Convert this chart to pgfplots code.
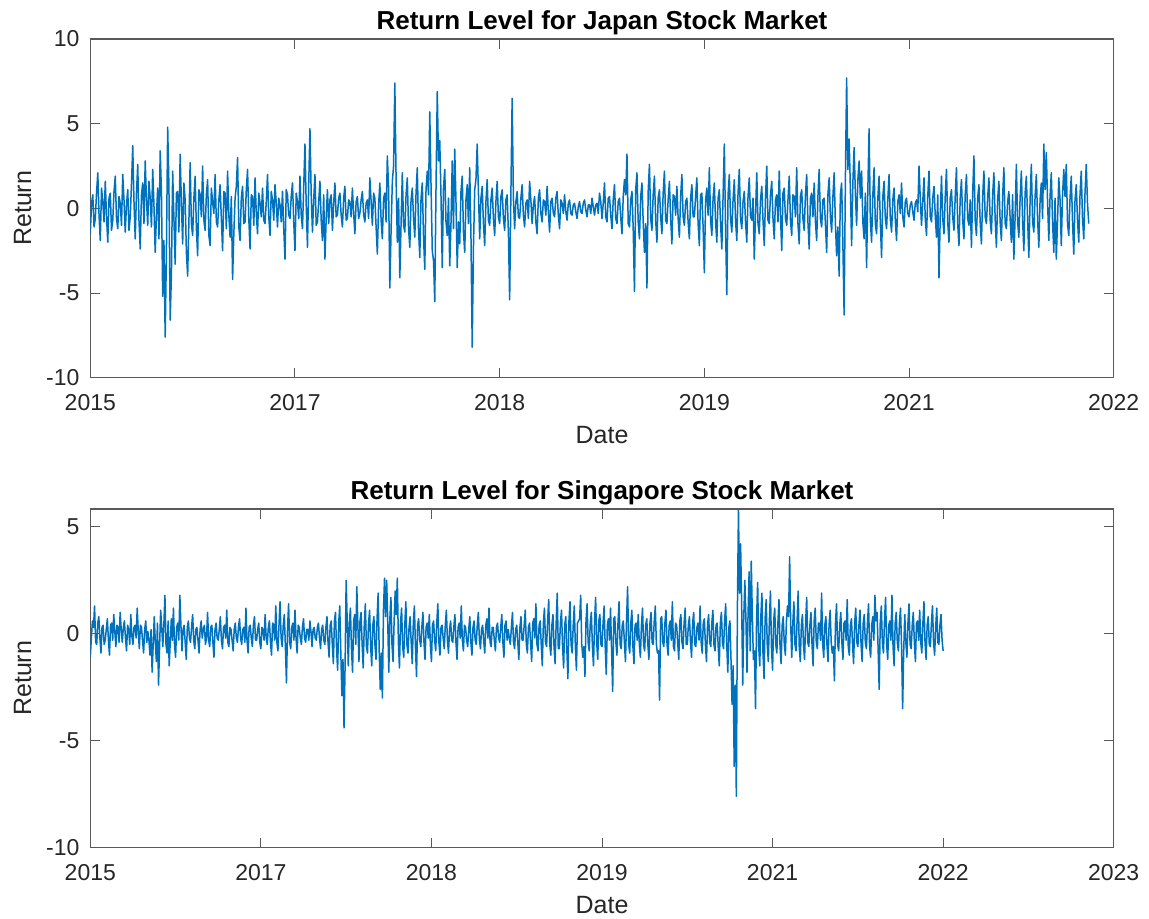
\documentclass[border=0pt]{standalone}
\usepackage{pgfplots}
\pgfplotsset{compat=1.18}
\usepackage{fontspec}
\setmainfont{Liberation Sans}
\definecolor{mblue}{rgb}{0,0.447,0.741}
\definecolor{mgray}{rgb}{0.15,0.15,0.15}
\definecolor{boxgray}{rgb}{0.35,0.35,0.35}
\pgfplotsset{every axis title shift=0pt,
 mstyle/.style={
  scale only axis, width=511.7pt, height=169.35pt,
  axis line style={draw=boxgray, line width=0.6pt},
  tick align=inside, xtick pos=both, ytick pos=both,
  major tick length=5pt,
  every tick/.style={boxgray, line width=0.5pt},
  tick label style={font=\fontsize{11.5}{11.5}\selectfont, text=mgray},
  xticklabel style={yshift=-4.8pt},
  yticklabel style={xshift=-1.9pt},
  label style={font=\fontsize{12.5}{12.5}\selectfont, text=mgray},
  xlabel={Date}, ylabel={Return},
  xlabel style={at={(axis description cs:0.5,-0.1937)}, anchor=base},
  ylabel style={at={(axis description cs:-0.0662,0.5)}, anchor=center},
  title style={at={(axis description cs:0.5,1)}, anchor=base, yshift=4.85pt, font=\bfseries\fontsize{13}{13}\selectfont},
  clip=true,
}}
\begin{document}
\begin{tikzpicture}
\path[use as bounding box] (0,0) rectangle (574.5pt,-459pt);
\begin{axis}[mstyle, at={(45.15pt,-188.85pt)}, anchor=south west,
  xmin=0, xmax=820, ymin=-10, ymax=10,
  xtick={0,164,328,492,656,820}, xticklabels={2015,2017,2018,2019,2021,2022},
  ytick={-10,-5,0,5,10}, yticklabels={-10,-5,0,5,10},
  title={Return Level for Japan Stock Market}]
\addplot[mblue, line width=0.75pt, line join=round, no marks] coordinates {
(0,-1.5)(1,0.3)(2,0.8)(3,-1.1)(4,-0.6)(5,0.9)(6,2.1)(7,-0.4)(8,-1.9)(9,1.2)(10,0.4)(11,-0.8)(12,1.6)(13,-0.5)(14,-2.0)(15,0.6)(16,0.9)(17,-1.3)(18,-0.7)(19,1.0)
(20,1.9)(21,-0.6)(22,-1.2)(23,0.7)(24,0.3)(25,-1.0)(26,2.0)(27,0.5)(28,-1.4)(29,0.2)(30,1.1)(31,-1.3)(32,-0.5)(33,1.4)(34,3.7)(35,0.4)(36,-1.8)(37,0.9)(38,2.6)(39,-0.7)
(40,-2.4)(41,0.8)(42,1.5)(43,-0.9)(44,2.8)(45,0.5)(46,-1.0)(47,1.6)(48,0.6)(49,-1.1)(50,2.3)(51,0.2)(52,-2.6)(53,-0.4)(54,1.2)(55,-1.8)(56,3.4)(57,1.0)(58,-5.2)(59,-1.9)
(60,-7.6)(61,-2.5)(62,4.8)(63,1.3)(64,-6.6)(65,-3.9)(66,2.2)(67,-0.6)(68,-3.3)(69,0.9)(70,1.0)(71,-1.4)(72,3.2)(73,0.3)(74,-2.1)(75,1.5)(76,0.5)(77,-2.6)(78,-4.0)(79,-0.8)
(80,2.7)(81,-0.9)(82,-1.6)(83,0.6)(84,1.9)(85,-1.2)(86,-2.8)(87,1.1)(88,0.8)(89,-0.5)(90,2.5)(91,-0.7)(92,-1.3)(93,0.8)(94,1.7)(95,-1.6)(96,-2.2)(97,1.2)(98,0.4)(99,-0.3)
(100,2.0)(101,-0.8)(102,-1.1)(103,0.5)(104,1.4)(105,-0.6)(106,-2.5)(107,1.0)(108,0.9)(109,-1.2)(110,2.2)(111,-0.4)(112,-1.7)(113,0.7)(114,-4.2)(115,-1.5)(116,0.6)(117,1.3)(118,3.0)(119,-1.1)
(120,-1.9)(121,0.6)(122,1.3)(123,-0.9)(124,-0.8)(125,1.1)(126,2.3)(127,-0.6)(128,-2.4)(129,0.8)(130,0.7)(131,-1.0)(132,1.8)(133,-0.3)(134,-1.5)(135,0.9)(136,0.3)(137,-0.5)(138,1.2)(139,-0.7)
(140,-0.9)(141,0.4)(142,2.0)(143,-0.5)(144,-1.6)(145,1.0)(146,0.5)(147,-0.7)(148,1.4)(149,0.3)(150,-1.1)(151,0.6)(152,0.2)(153,-0.8)(154,1.0)(155,-1.2)(156,-3.0)(157,1.1)(158,0.8)(159,-0.4)
(160,-0.6)(161,0.7)(162,1.5)(163,-0.8)(164,-2.5)(165,0.9)(166,0.4)(167,-0.6)(168,1.9)(169,-0.4)(170,-1.2)(171,1.3)(172,3.8)(173,0.2)(174,-2.3)(175,1.4)(176,4.7)(177,0.8)(178,-1.4)(179,0.5)
(180,2.0)(181,-1.0)(182,-0.8)(183,0.4)(184,1.6)(185,-0.7)(186,-1.9)(187,0.8)(188,-3.0)(189,-0.6)(190,1.1)(191,-0.9)(192,0.5)(193,0.8)(194,-1.3)(195,0.3)(196,1.5)(197,-0.5)(198,-0.4)(199,0.6)
(200,0.9)(201,-0.4)(202,-1.1)(203,0.6)(204,1.3)(205,-0.7)(206,-0.6)(207,0.5)(208,0.4)(209,-0.5)(210,1.2)(211,-0.3)(212,-1.5)(213,0.4)(214,0.7)(215,-0.6)(216,-0.3)(217,0.5)(218,1.0)(219,-0.4)
(220,-0.8)(221,0.3)(222,0.5)(223,-0.6)(224,1.8)(225,0.4)(226,-1.0)(227,0.9)(228,0.6)(229,-1.1)(230,-2.7)(231,0.2)(232,1.5)(233,-0.7)(234,-1.8)(235,0.6)(236,0.9)(237,-0.8)(238,3.1)(239,1.2)
(240,-4.7)(241,-1.3)(242,1.6)(243,2.5)(244,7.4)(245,1.8)(246,-2.0)(247,0.6)(248,-4.1)(249,-0.9)(250,2.1)(251,-1.0)(252,-1.4)(253,0.8)(254,1.8)(255,-1.2)(256,-2.3)(257,0.5)(258,1.2)(259,-0.6)
(260,-1.7)(261,0.9)(262,2.4)(263,-1.3)(264,-2.9)(265,0.6)(266,1.5)(267,-1.7)(268,-3.6)(269,1.1)(270,2.2)(271,0.8)(272,5.7)(273,1.4)(274,-2.5)(275,-3.1)(276,-5.5)(277,1.2)(278,6.9)(279,2.8)
(280,4.0)(281,0.7)(282,-3.5)(283,1.2)(284,2.3)(285,-0.8)(286,-1.6)(287,0.6)(288,-3.4)(289,-0.9)(290,2.8)(291,-1.2)(292,3.5)(293,0.4)(294,-3.5)(295,-0.8)(296,-2.1)(297,1.0)(298,1.9)(299,-1.4)
(300,-2.6)(301,0.5)(302,1.4)(303,-0.9)(304,2.4)(305,-1.6)(306,-8.2)(307,-2.3)(308,1.1)(309,1.7)(310,3.8)(311,0.9)(312,-1.8)(313,0.6)(314,1.3)(315,-0.9)(316,-2.2)(317,0.4)(318,1.7)(319,-0.7)
(320,-1.0)(321,0.5)(322,1.2)(323,-0.6)(324,-1.6)(325,0.4)(326,1.6)(327,-0.5)(328,-0.9)(329,0.7)(330,1.1)(331,-0.6)(332,-1.3)(333,0.5)(334,0.8)(335,-1.4)(336,-5.4)(337,0.9)(338,6.5)(339,0.6)
(340,-1.2)(341,0.4)(342,1.0)(343,-0.5)(344,-0.6)(345,0.6)(346,1.4)(347,-0.4)(348,-1.1)(349,0.3)(350,0.5)(351,-0.6)(352,1.6)(353,0.5)(354,-0.9)(355,0.2)(356,0.7)(357,-0.8)(358,-1.5)(359,0.6)
(360,1.1)(361,-0.3)(362,-0.8)(363,0.5)(364,0.4)(365,-0.4)(366,1.3)(367,-0.2)(368,-1.4)(369,0.4)(370,0.6)(371,-0.3)(372,-0.5)(373,0.6)(374,1.0)(375,-0.4)(376,-1.2)(377,0.5)(378,0.3)(379,-0.3)
(380,0.8)(381,-0.2)(382,-0.7)(383,0.3)(384,0.5)(385,-0.3)(386,-0.4)(387,0.2)(388,0.3)(389,-0.2)(390,-0.6)(391,0.1)(392,0.4)(393,-0.2)(394,-0.3)(395,0.3)(396,0.5)(397,-0.1)(398,-0.5)(399,0.2)
(400,0.2)(401,-0.3)(402,0.6)(403,0.1)(404,-0.4)(405,0.2)(406,0.3)(407,-0.3)(408,0.9)(409,0.4)(410,-0.6)(411,0.3)(412,1.5)(413,-0.5)(414,-0.8)(415,0.6)(416,0.7)(417,-0.4)(418,-1.2)(419,0.5)
(420,1.4)(421,-0.6)(422,-0.9)(423,0.4)(424,0.6)(425,-0.5)(426,-1.5)(427,0.7)(428,1.7)(429,0.8)(430,3.2)(431,-0.9)(432,-1.1)(433,0.5)(434,1.0)(435,-1.2)(436,-4.9)(437,1.1)(438,2.1)(439,-0.8)
(440,-1.8)(441,0.7)(442,1.5)(443,-0.8)(444,-2.6)(445,-0.9)(446,-4.7)(447,1.0)(448,2.6)(449,-0.6)(450,-1.3)(451,0.8)(452,1.9)(453,-0.7)(454,-2.0)(455,0.6)(456,1.1)(457,-0.5)(458,-1.5)(459,0.9)
(460,2.2)(461,-0.7)(462,-0.9)(463,0.5)(464,1.6)(465,-0.6)(466,-2.1)(467,0.8)(468,0.7)(469,-0.4)(470,1.3)(471,-0.6)(472,-1.7)(473,0.7)(474,2.0)(475,-0.5)(476,-1.0)(477,0.4)(478,0.6)(479,-0.8)
(480,-1.8)(481,0.6)(482,1.4)(483,-0.5)(484,-0.5)(485,0.7)(486,1.8)(487,-0.9)(488,-2.2)(489,0.8)(490,0.9)(491,-1.1)(492,-3.8)(493,0.5)(494,1.2)(495,-0.4)(496,2.4)(497,-0.7)(498,-1.6)(499,0.6)
(500,1.5)(501,-0.8)(502,-2.0)(503,0.6)(504,1.1)(505,-0.9)(506,-2.4)(507,0.7)(508,3.8)(509,-1.2)(510,-5.1)(511,0.8)(512,2.0)(513,-0.6)(514,-1.4)(515,0.5)(516,1.7)(517,-0.7)(518,-1.9)(519,0.9)
(520,2.3)(521,-0.6)(522,-1.2)(523,0.4)(524,1.0)(525,-0.8)(526,-2.0)(527,0.7)(528,1.8)(529,-0.5)(530,-0.7)(531,0.6)(532,-3.0)(533,-0.3)(534,2.1)(535,-0.9)(536,-1.5)(537,0.5)(538,1.3)(539,-0.7)
(540,-2.2)(541,0.6)(542,2.5)(543,-0.7)(544,-0.9)(545,0.8)(546,1.6)(547,-0.6)(548,-1.8)(549,0.5)(550,0.8)(551,-0.8)(552,2.2)(553,-0.4)(554,-2.5)(555,0.9)(556,1.2)(557,-0.6)(558,-1.0)(559,0.5)
(560,1.9)(561,-0.7)(562,-1.6)(563,0.8)(564,0.7)(565,-0.5)(566,2.4)(567,-0.9)(568,-2.1)(569,0.7)(570,1.1)(571,-0.6)(572,-1.3)(573,0.8)(574,2.0)(575,-0.8)(576,-2.4)(577,0.6)(578,0.9)(579,-0.5)
(580,1.5)(581,-0.8)(582,-1.9)(583,0.7)(584,2.3)(585,-0.6)(586,-1.1)(587,0.5)(588,0.6)(589,-0.9)(590,-2.6)(591,0.8)(592,1.8)(593,-0.5)(594,-1.4)(595,0.7)(596,2.1)(597,-0.9)(598,-2.8)(599,-1.1)
(600,-4.0)(601,0.8)(602,1.5)(603,-2.1)(604,-6.3)(605,1.6)(606,7.7)(607,2.3)(608,4.1)(609,1.2)(610,-2.2)(611,1.5)(612,3.6)(613,0.9)(614,-1.0)(615,1.7)(616,2.8)(617,0.6)(618,2.2)(619,-0.8)
(620,-1.8)(621,0.9)(622,-3.5)(623,1.1)(624,4.7)(625,-0.7)(626,-2.0)(627,0.8)(628,2.4)(629,-0.9)(630,-1.5)(631,0.6)(632,1.9)(633,-0.8)(634,-2.9)(635,0.7)(636,1.6)(637,-0.6)(638,-1.2)(639,0.5)
(640,2.0)(641,-0.6)(642,-1.4)(643,0.5)(644,1.2)(645,-0.7)(646,-1.9)(647,0.4)(648,0.8)(649,-0.3)(650,1.5)(651,-0.5)(652,-1.1)(653,0.4)(654,0.6)(655,-0.3)(656,-0.5)(657,0.2)(658,0.4)(659,-0.2)
(660,-0.7)(661,0.3)(662,0.5)(663,-0.2)(664,2.5)(665,0.6)(666,-1.0)(667,0.4)(668,1.8)(669,-0.6)(670,-1.6)(671,0.7)(672,2.2)(673,-0.5)(674,-0.8)(675,0.6)(676,1.3)(677,-0.4)(678,-1.7)(679,0.8)
(680,-4.1)(681,-0.5)(682,1.9)(683,-0.6)(684,-1.5)(685,0.7)(686,2.3)(687,-0.8)(688,-2.0)(689,0.6)(690,1.1)(691,-0.5)(692,-1.3)(693,0.7)(694,2.4)(695,-0.9)(696,-2.2)(697,0.6)(698,1.7)(699,-0.7)
(700,-1.8)(701,0.8)(702,2.0)(703,-0.6)(704,-1.0)(705,0.5)(706,-2.3)(707,0.9)(708,3.1)(709,-0.7)(710,-1.6)(711,0.6)(712,1.4)(713,-0.8)(714,-2.1)(715,0.7)(716,2.2)(717,-0.5)(718,-0.9)(719,0.6)
(720,1.8)(721,-0.7)(722,-1.5)(723,0.8)(724,2.1)(725,-0.6)(726,-2.3)(727,0.5)(728,1.6)(729,-0.8)(730,-1.9)(731,0.7)(732,2.4)(733,-0.9)(734,-1.2)(735,0.4)(736,1.0)(737,-0.6)(738,-2.0)(739,0.8)
(740,-3.0)(741,-0.5)(742,2.6)(743,-0.8)(744,-1.7)(745,0.6)(746,2.2)(747,-0.7)(748,-2.5)(749,0.9)(750,1.9)(751,-0.6)(752,-2.9)(753,0.5)(754,2.6)(755,-0.8)(756,-1.4)(757,0.7)(758,2.0)(759,-0.6)
(760,-2.3)(761,0.5)(762,1.5)(763,-0.6)(764,3.8)(765,1.1)(766,3.3)(767,0.4)(768,-1.9)(769,0.7)(770,2.1)(771,-0.8)(772,-2.6)(773,0.6)(774,-3.0)(775,-0.7)(776,1.8)(777,0.5)(778,-2.2)(779,0.8)
(780,2.3)(781,0.7)(782,2.6)(783,-0.9)(784,-1.6)(785,0.6)(786,1.9)(787,-0.8)(788,-2.7)(789,0.5)(790,1.4)(791,-0.7)(792,-2.0)(793,0.8)(794,2.2)(795,-0.6)(796,-1.8)(797,0.9)(798,2.6)(799,0.3)
(800,-0.9)};
\end{axis}
\begin{axis}[mstyle, at={(45.15pt,-423.85pt)}, anchor=south west,
  xmin=0, xmax=960, ymin=-10, ymax=5.83,
  xtick={0,160,320,480,640,800,960}, xticklabels={2015,2017,2018,2019,2021,2022,2023},
  ytick={-10,-5,0,5}, yticklabels={-10,-5,0,5},
  title={Return Level for Singapore Stock Market}]
\addplot[mblue, line width=0.75pt, line join=round, no marks] coordinates {
(0,-1.1)(1,-0.2)(2,0.6)(3,0.3)(4,1.3)(5,-0.4)(6,-0.5)(7,0.5)(8,0.8)(9,-0.2)(10,-0.9)(11,0.3)(12,0.4)(13,-0.5)(14,-0.3)(15,0.2)(16,0.7)(17,-0.3)(18,-1.0)(19,0.4)
(20,0.5)(21,-0.3)(22,0.9)(23,0.1)(24,-0.6)(25,0.4)(26,0.3)(27,-0.4)(28,1.0)(29,0.2)(30,-0.4)(31,0.3)(32,0.6)(33,-0.2)(34,-0.8)(35,0.4)(36,0.2)(37,-0.5)(38,0.9)(39,-0.1)
(40,-0.5)(41,0.3)(42,0.4)(43,-0.2)(44,1.2)(45,0.1)(46,-0.7)(47,0.4)(48,0.3)(49,-0.3)(50,-0.9)(51,0.2)(52,0.6)(53,-0.4)(54,0.1)(55,-0.3)(56,-1.0)(57,0.2)(58,-1.8)(59,-0.5)
(60,0.8)(61,-0.4)(62,-1.3)(63,0.5)(64,-2.4)(65,-0.6)(66,1.1)(67,0.3)(68,-0.6)(69,0.4)(70,1.8)(71,-0.5)(72,-0.9)(73,0.6)(74,-1.5)(75,-0.4)(76,0.7)(77,-0.3)(78,1.2)(79,-0.5)
(80,-1.1)(81,0.3)(82,0.5)(83,-0.3)(84,1.8)(85,0.4)(86,-0.8)(87,0.2)(88,0.4)(89,-0.4)(90,-1.2)(91,0.3)(92,0.6)(93,-0.2)(94,-0.4)(95,0.3)(96,0.9)(97,-0.3)(98,-0.7)(99,0.2)
(100,0.3)(101,-0.3)(102,-0.9)(103,0.2)(104,0.6)(105,-0.2)(106,0.2)(107,0.4)(108,-0.5)(109,-0.2)(110,1.0)(111,-0.3)(112,-0.6)(113,0.3)(114,0.4)(115,-0.4)(116,-1.1)(117,0.2)(118,0.5)(119,-0.2)
(120,-0.3)(121,0.2)(122,0.8)(123,-0.3)(124,-0.7)(125,0.3)(126,0.4)(127,-0.2)(128,1.1)(129,-0.4)(130,-0.6)(131,0.3)(132,0.2)(133,-0.3)(134,-0.8)(135,0.2)(136,0.5)(137,-0.2)(138,-0.4)(139,0.3)
(140,0.7)(141,-0.2)(142,-0.5)(143,0.2)(144,0.3)(145,-0.4)(146,1.2)(147,-0.3)(148,-0.9)(149,0.3)(150,0.4)(151,-0.2)(152,-0.6)(153,0.4)(154,0.8)(155,-0.3)(156,-0.3)(157,0.2)(158,0.5)(159,-0.4)
(160,-0.7)(161,0.3)(162,0.2)(163,-0.3)(164,0.9)(165,-0.2)(166,-0.5)(167,0.3)(168,0.6)(169,-0.4)(170,-1.0)(171,0.5)(172,0.4)(173,-0.3)(174,1.3)(175,-0.4)(176,-0.8)(177,0.4)(178,1.5)(179,-0.2)
(180,-0.6)(181,0.4)(182,0.9)(183,-0.6)(184,-2.3)(185,0.2)(186,1.4)(187,-0.4)(188,-0.7)(189,0.3)(190,0.5)(191,-0.3)(192,1.1)(193,-0.2)(194,-0.9)(195,0.4)(196,0.3)(197,-0.2)(198,-0.5)(199,0.3)
(200,0.7)(201,-0.2)(202,-0.4)(203,0.2)(204,0.2)(205,-0.3)(206,0.6)(207,0.1)(208,-0.6)(209,0.2)(210,0.3)(211,-0.2)(212,-0.3)(213,0.3)(214,0.5)(215,-0.2)(216,-0.7)(217,0.2)(218,0.4)(219,-0.3)
(220,-0.5)(221,0.3)(222,0.8)(223,-0.4)(224,-1.1)(225,0.4)(226,0.6)(227,-0.5)(228,-1.4)(229,0.6)(230,1.0)(231,-0.7)(232,-1.7)(233,0.5)(234,1.3)(235,-0.9)(236,-2.9)(237,-1.2)(238,-4.4)(239,-1.5)
(240,2.5)(241,0.6)(242,-1.5)(243,0.5)(244,1.2)(245,-0.7)(246,-1.8)(247,0.6)(248,0.9)(249,-0.5)(250,2.2)(251,0.4)(252,-1.3)(253,0.6)(254,1.0)(255,-0.5)(256,-1.6)(257,0.4)(258,1.4)(259,-0.6)
(260,-0.9)(261,0.5)(262,1.1)(263,-0.6)(264,-1.5)(265,0.4)(266,0.8)(267,-0.5)(268,-1.2)(269,0.7)(270,1.9)(271,-0.8)(272,-2.6)(273,-0.9)(274,-3.0)(275,1.1)(276,2.6)(277,0.8)(278,2.5)(279,0.6)
(280,-1.8)(281,0.7)(282,1.7)(283,-0.5)(284,-1.3)(285,0.6)(286,2.0)(287,0.9)(288,2.6)(289,-0.4)(290,-1.6)(291,0.5)(292,1.2)(293,-0.6)(294,-1.1)(295,0.4)(296,1.5)(297,-0.5)(298,-0.9)(299,0.3)
(300,0.8)(301,-0.4)(302,-1.4)(303,0.5)(304,1.3)(305,-0.6)(306,-2.0)(307,0.4)(308,0.7)(309,-0.3)(310,-0.6)(311,0.3)(312,1.0)(313,-0.4)(314,-1.2)(315,0.3)(316,0.5)(317,-0.2)(318,0.9)(319,-0.5)
(320,-1.3)(321,0.4)(322,0.6)(323,-0.3)(324,-0.8)(325,0.5)(326,1.4)(327,-0.4)(328,-1.0)(329,0.3)(330,0.4)(331,-0.2)(332,-0.7)(333,0.4)(334,1.1)(335,-0.3)(336,-0.9)(337,0.2)(338,0.6)(339,-0.3)
(340,-0.4)(341,0.3)(342,0.9)(343,-0.4)(344,-1.2)(345,0.3)(346,0.5)(347,-0.2)(348,1.3)(349,-0.3)(350,-0.8)(351,0.4)(352,0.3)(353,-0.3)(354,-0.6)(355,0.2)(356,0.8)(357,-0.4)(358,-1.0)(359,0.3)
(360,0.6)(361,-0.3)(362,-0.5)(363,0.4)(364,1.0)(365,-0.3)(366,-0.7)(367,0.2)(368,0.4)(369,-0.3)(370,-0.9)(371,0.4)(372,0.7)(373,-0.2)(374,1.2)(375,-0.4)(376,-0.6)(377,0.3)(378,0.3)(379,-0.3)
(380,-0.8)(381,0.3)(382,0.5)(383,-0.2)(384,-0.4)(385,0.3)(386,0.9)(387,-0.4)(388,-1.1)(389,0.4)(390,0.6)(391,-0.3)(392,0.2)(393,-0.2)(394,-0.5)(395,0.3)(396,1.0)(397,-0.4)(398,-0.7)(399,0.2)
(400,0.4)(401,-0.4)(402,-1.2)(403,0.3)(404,0.8)(405,-0.3)(406,-0.3)(407,0.4)(408,1.1)(409,-0.5)(410,-0.9)(411,0.3)(412,0.5)(413,-0.4)(414,-1.3)(415,0.5)(416,0.7)(417,-0.2)(418,1.4)(419,-0.5)
(420,-0.8)(421,0.4)(422,0.6)(423,-0.5)(424,-1.5)(425,0.5)(426,1.2)(427,-0.4)(428,-0.6)(429,0.6)(430,1.6)(431,-0.5)(432,-1.0)(433,0.4)(434,0.9)(435,-0.6)(436,-1.4)(437,0.5)(438,1.9)(439,-0.7)
(440,-0.7)(441,0.5)(442,1.1)(443,-0.6)(444,-1.6)(445,0.4)(446,0.8)(447,-0.7)(448,-2.1)(449,0.6)(450,1.5)(451,-0.5)(452,-0.9)(453,0.4)(454,1.3)(455,-0.6)(456,-1.7)(457,0.5)(458,0.6)(459,0.7)
(460,1.8)(461,-0.5)(462,-1.1)(463,-0.6)(464,-2.0)(465,0.6)(466,1.4)(467,-0.4)(468,-0.8)(469,0.5)(470,1.0)(471,-0.6)(472,-1.5)(473,0.5)(474,1.7)(475,-0.4)(476,-1.2)(477,0.6)(478,0.9)(479,-0.5)
(480,-0.6)(481,0.5)(482,1.3)(483,-0.6)(484,-1.9)(485,0.4)(486,0.7)(487,-0.3)(488,1.2)(489,-0.8)(490,-2.7)(491,0.7)(492,0.8)(493,-0.4)(494,-1.0)(495,0.5)(496,1.5)(497,-0.5)(498,-0.7)(499,0.4)
(500,0.6)(501,-0.4)(502,-1.3)(503,0.6)(504,2.2)(505,-0.5)(506,-0.9)(507,0.5)(508,1.1)(509,-0.6)(510,-1.4)(511,0.4)(512,0.5)(513,-0.3)(514,0.9)(515,-0.5)(516,-1.1)(517,0.4)(518,1.2)(519,-0.5)
(520,-0.8)(521,0.4)(522,0.7)(523,-0.5)(524,-1.2)(525,0.5)(526,1.0)(527,-0.4)(528,-0.5)(529,0.6)(530,1.3)(531,-0.5)(532,-0.9)(533,-0.8)(534,-3.1)(535,0.7)(536,0.8)(537,-0.4)(538,-0.6)(539,0.5)
(540,1.1)(541,-0.5)(542,-1.0)(543,0.4)(544,0.6)(545,-0.3)(546,1.5)(547,-0.6)(548,-0.8)(549,0.5)(550,0.4)(551,-0.4)(552,-1.2)(553,0.6)(554,0.9)(555,-0.4)(556,-0.7)(557,0.5)(558,1.2)(559,-0.5)
(560,-0.5)(561,0.4)(562,0.8)(563,-0.4)(564,-1.1)(565,0.5)(566,1.0)(567,-0.5)(568,-0.6)(569,0.3)(570,0.5)(571,-0.3)(572,1.3)(573,-0.4)(574,-0.9)(575,0.5)(576,0.7)(577,-0.5)(578,-1.3)(579,0.4)
(580,0.9)(581,-0.4)(582,-0.6)(583,0.5)(584,1.1)(585,-0.5)(586,-0.8)(587,0.4)(588,0.5)(589,-0.6)(590,-1.5)(591,0.5)(592,1.0)(593,-0.4)(594,-0.7)(595,0.6)(596,1.4)(597,-0.5)(598,-1.8)(599,0.3)
(600,0.6)(601,-1.2)(602,-3.3)(603,-1.5)(604,-6.2)(605,-2.4)(606,-7.6)(607,1.1)(608,5.83)(609,1.9)(610,4.2)(611,1.4)(612,-2.4)(613,0.8)(614,2.5)(615,0.7)(616,-1.8)(617,0.9)(618,2.9)(619,-0.8)
(620,3.4)(621,0.9)(622,-1.2)(623,-0.8)(624,-3.5)(625,0.7)(626,2.4)(627,-0.6)(628,-1.5)(629,0.8)(630,1.9)(631,-0.9)(632,-2.1)(633,0.7)(634,1.6)(635,-0.5)(636,-1.3)(637,0.6)(638,2.0)(639,-0.7)
(640,-1.7)(641,0.6)(642,1.2)(643,-0.5)(644,-0.9)(645,0.5)(646,1.6)(647,-0.6)(648,-1.4)(649,0.4)(650,0.8)(651,-0.5)(652,-1.0)(653,0.6)(654,1.3)(655,0.8)(656,3.6)(657,0.4)(658,-1.1)(659,0.5)
(660,1.5)(661,-0.5)(662,-0.8)(663,0.6)(664,2.0)(665,-0.6)(666,-1.3)(667,0.4)(668,0.9)(669,-0.5)(670,-1.2)(671,0.5)(672,1.7)(673,-0.4)(674,-0.6)(675,0.4)(676,1.0)(677,-0.5)(678,-1.5)(679,0.6)
(680,1.2)(681,-0.4)(682,-0.7)(683,0.5)(684,0.5)(685,-0.3)(686,1.9)(687,-0.5)(688,-1.1)(689,0.4)(690,0.8)(691,-0.5)(692,-1.3)(693,0.4)(694,1.1)(695,-0.4)(696,-0.9)(697,-0.6)(698,-2.2)(699,0.5)
(700,1.4)(701,-0.5)(702,-0.8)(703,0.4)(704,1.0)(705,-0.4)(706,-1.2)(707,0.5)(708,0.6)(709,-0.3)(710,1.6)(711,-0.6)(712,-1.0)(713,0.4)(714,0.7)(715,-0.5)(716,-1.4)(717,0.5)(718,1.2)(719,-0.4)
(720,-0.6)(721,0.4)(722,1.1)(723,-0.5)(724,-1.3)(725,0.5)(726,0.9)(727,-0.4)(728,-0.7)(729,0.5)(730,1.4)(731,-0.6)(732,-1.1)(733,0.4)(734,0.8)(735,-0.3)(736,1.8)(737,0.6)(738,1.0)(739,-0.7)
(740,-2.6)(741,0.5)(742,1.3)(743,-0.4)(744,-0.9)(745,0.6)(746,1.7)(747,-0.5)(748,-1.2)(749,0.4)(750,0.6)(751,-0.3)(752,1.8)(753,-0.6)(754,-1.5)(755,0.5)(756,1.0)(757,-0.4)(758,-0.8)(759,0.5)
(760,1.2)(761,-0.6)(762,-3.5)(763,-0.8)(764,0.9)(765,-0.4)(766,-1.1)(767,0.5)(768,1.4)(769,-0.5)(770,-0.7)(771,0.4)(772,1.0)(773,-0.4)(774,-1.3)(775,0.5)(776,0.6)(777,-0.3)(778,1.1)(779,-0.4)
(780,-0.9)(781,0.5)(782,1.5)(783,-0.4)(784,-1.2)(785,0.4)(786,0.8)(787,-0.5)(788,-0.6)(789,0.5)(790,1.3)(791,-0.4)(792,-1.0)(793,0.3)(794,1.2)(795,-0.4)(796,-0.5)(797,0.4)(798,0.9)(799,-0.3)
(800,-0.8)};
\end{axis}
\end{tikzpicture}
\end{document}
